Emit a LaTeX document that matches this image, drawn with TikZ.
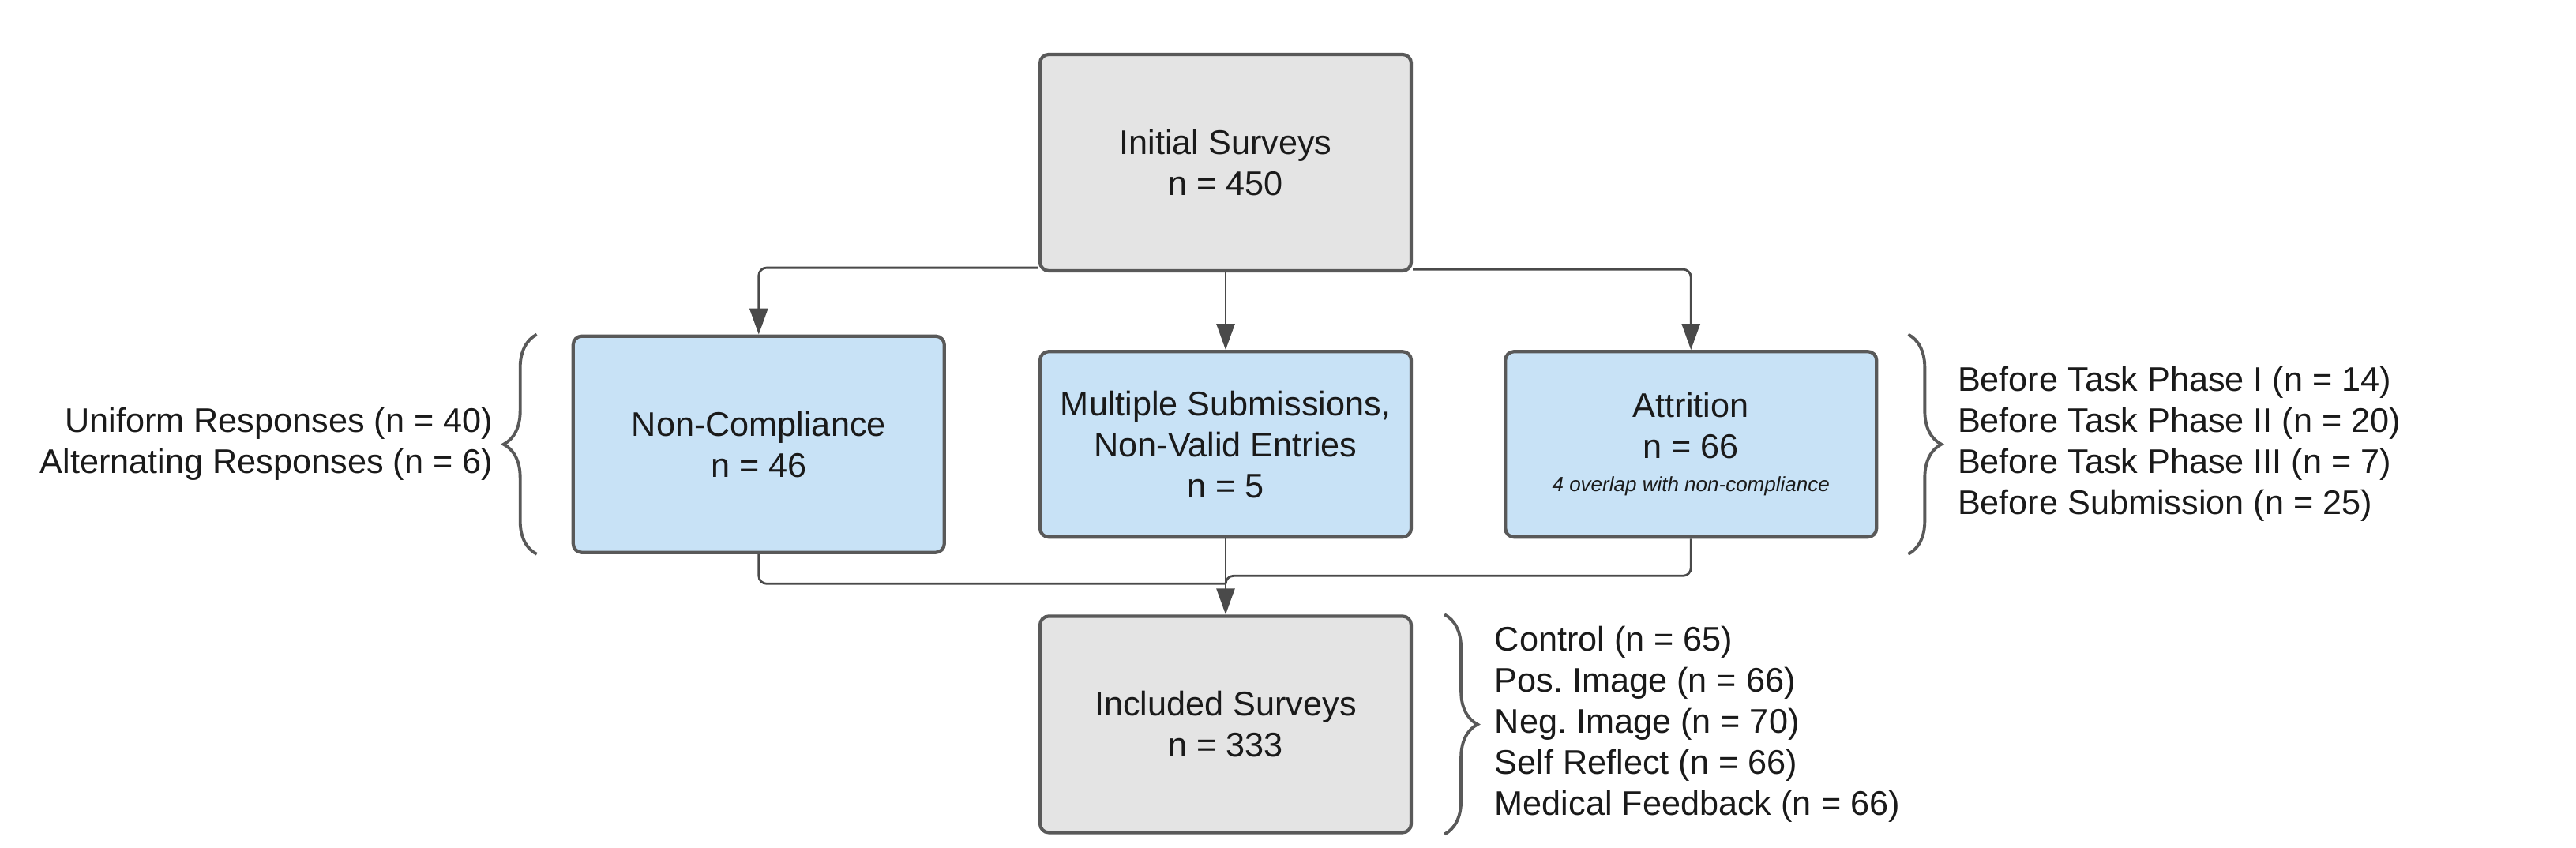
\documentclass[tikz,border=0pt]{standalone}
\usepackage{fontspec}
\setmainfont{Liberation Sans}
\usetikzlibrary{arrows.meta,positioning,decorations.pathreplacing}

\definecolor{boxblue}{HTML}{C8E2F6}
\definecolor{boxgrey}{HTML}{E4E4E4}
\definecolor{edgegrey}{HTML}{595959}
\definecolor{linegrey}{HTML}{4A4A4A}
\definecolor{textgrey}{HTML}{1A1A1A}
\frenchspacing

\begin{document}
\begin{tikzpicture}[>={Triangle[length=3.3mm,width=2.3mm]},node distance=0.98cm,
  main node/.style={rectangle,rounded corners=1.1mm,draw=edgegrey,line width=1.2pt,
  text=textgrey,font=\fontsize{12.3}{14.8}\selectfont,align=center,
  minimum width=4.7cm,inner sep=0pt},
  grey node/.style={main node,fill=boxgrey,minimum height=2.74cm},
  blue node/.style={main node,fill=boxblue,minimum height=2.35cm},
  side text/.style={text=textgrey,font=\fontsize{12.3}{14.8}\selectfont,inner sep=0pt},
  link/.style={draw=linegrey,line width=0.8pt,rounded corners=1mm},
  side brace/.style={draw=edgegrey,line width=1.1pt,decorate,
  decoration={brace,amplitude=0.42cm}}]

  \useasboundingbox (0,0) rectangle (32.62,10.74);

  \node[grey node] (init) at (15.52,8.68) {Initial Surveys\\n = 450};
  \node[blue node] (ms) [below=of init] {Multiple Submissions,\\Non-Valid Entries\\n = 5};
  \node[blue node,minimum height=2.74cm] (nc) [left=1.17cm of ms] {Non-Compliance\\n = 46};
  \node[blue node] (att) [right=1.15cm of ms] {Attrition\\n = 66\\[-3pt]
    {\fontsize{7.4}{9}\selectfont\itshape 4 overlap with non-compliance}};
  \node[grey node] (inc) [below=0.96cm of ms] {Included Surveys\\n = 333};

  % breakdowns beside the boxes
  \node[side text,align=right,left=0.99cm of nc] (ncinfo)
    {Uniform Responses (n = 40)\\Alternating Responses (n = 6)};
  \node[side text,align=left,right=1.00cm of att] (attinfo)
    {Before Task Phase I (n = 14)\\Before Task Phase II (n = 20)\\
     Before Task Phase III (n = 7)\\Before Submission (n = 25)};
  \node[side text,align=left,right=1.03cm of inc] (incinfo)
    {Control (n = 65)\\Pos. Image (n = 66)\\Neg. Image (n = 70)\\
     Self Reflect (n = 66)\\Medical Feedback (n = 66)};

  \draw[side brace] ([xshift=-0.44cm]nc.south west) -- ([xshift=-0.44cm]nc.north west);
  \draw[side brace] ([xshift=0.38cm]att.east |- nc.north) -- ([xshift=0.38cm]att.east |- nc.south);
  \draw[side brace] ([xshift=0.4cm]inc.north east) -- ([xshift=0.4cm]inc.south east);

  \draw[link,->] ([yshift=0.06cm]init.south west) -| (nc.north);
  \draw[link,->] ([yshift=0.04cm]init.south east) -| (att.north);
  \path (init) edge[link,->] (ms)
        (ms) edge[link,->] (inc);

  \coordinate (jl) at ([yshift=0.39cm]inc.north);
  \coordinate (jr) at ([yshift=0.49cm]inc.north);
  \draw[link] (nc.south) |- (jl);
  \draw[link] (att.south) |- (jr) -- (jl);

\end{tikzpicture}
\end{document}
